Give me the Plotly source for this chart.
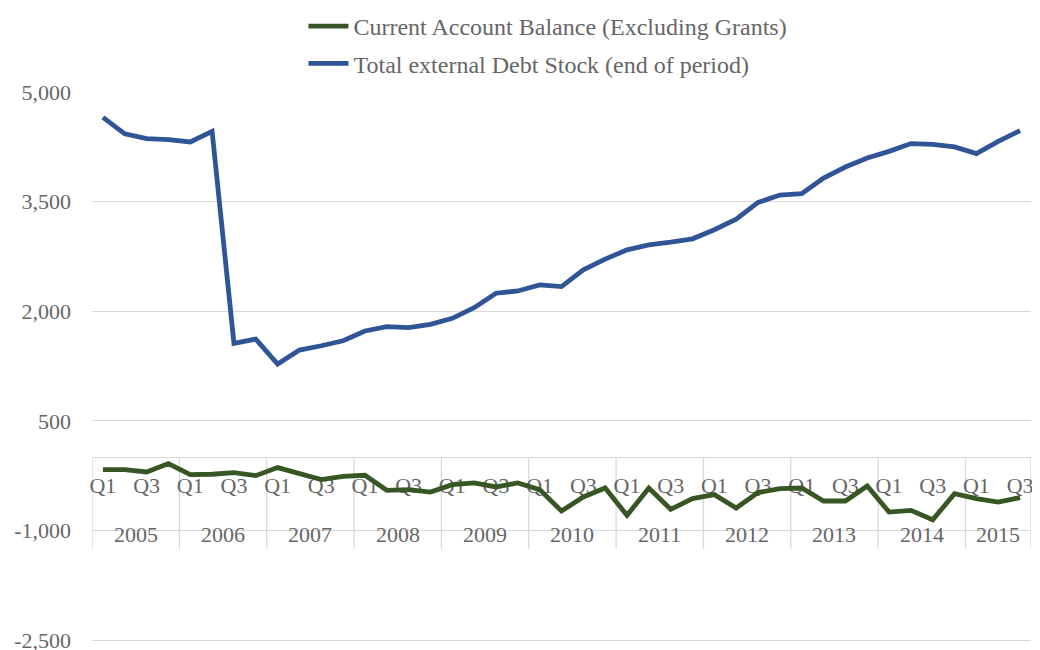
import plotly.graph_objects as go

years = ["2005", "2006", "2007", "2008", "2009", "2010", "2011", "2012", "2013", "2014", "2015"]
quarters_per_year = [4, 4, 4, 4, 4, 4, 4, 4, 4, 4, 3]
quarter_names = ["Q1", "Q2", "Q3", "Q4"]

current_account = [
    -166, -166, -199, -84, -235, -230, -208, -249, -139, -221, -304, -258,
    -244, -450, -440, -473, -372, -349, -404, -349, -440, -733, -541, -418,
    -792, -418, -710, -564, -509, -692, -481, -427, -418, -596, -596, -391,
    -747, -724, -852, -495, -564, -610, -550,
]
debt_stock = [
    4654, 4427, 4362, 4349, 4317, 4462, 1561, 1620, 1277, 1469, 1528, 1597,
    1730, 1789, 1775, 1822, 1904, 2049, 2247, 2278, 2361, 2337, 2566, 2713,
    2840, 2909, 2946, 2991, 3115, 3261, 3489, 3590, 3608, 3823, 3974, 4098,
    4188, 4294, 4284, 4248, 4157, 4325, 4472,
]
y_ticks = [-2500, -1000, 500, 2000, 3500, 5000]

quarter_labels = []
year_of_point = []
for yr, nq in zip(years, quarters_per_year):
    for q in range(nq):
        quarter_labels.append(quarter_names[q])
        year_of_point.append(yr)
idx = list(range(len(quarter_labels)))

FONT = "Liberation Serif"
TXT = "#666666"
GRID = "#d9d9d9"

Y_MIN, Y_MAX = -2525, 5000
zero_frac = -Y_MIN / (Y_MAX - Y_MIN)

fig = go.Figure()
fig.add_trace(go.Scatter(x=idx, y=current_account, mode="lines",
                         name="Current Account Balance (Excluding Grants)",
                         line=dict(color="#375623", width=4.8), legendgroup="a"))
fig.add_trace(go.Scatter(x=idx, y=debt_stock, mode="lines",
                         name="Total external Debt Stock (end of period)",
                         line=dict(color="#2f5597", width=4.8), legendgroup="b"))

tickvals = [i for i in idx if quarter_labels[i] in ("Q1", "Q3")]
ticktext = [quarter_labels[i] for i in tickvals]

# year group dividers and labels
shapes = []
annotations = []
start = 0
bounds = [-0.5]
for yr, nq in zip(years, quarters_per_year):
    center = start + (nq - 1) / 2
    annotations.append(dict(x=center, y=-1050, xref="x", yref="y", text=yr,
                            showarrow=False, yanchor="middle",
                            font=dict(family=FONT, size=22, color=TXT)))
    start += nq
    bounds.append(start - 0.5)
for b in bounds:
    shapes.append(dict(type="line", xref="x", yref="y", x0=b, x1=b,
                       y0=0, y1=-1250, line=dict(color=GRID, width=1.3), layer="below"))

fig.update_layout(
    width=1032, height=642,
    margin=dict(l=84, r=9, t=84, b=8, autoexpand=False),
    paper_bgcolor="white", plot_bgcolor="white",
    font=dict(family=FONT, color=TXT, size=22),
    showlegend=True,
    legend=dict(orientation="v", x=0.4856, xanchor="center", y=1.16, yanchor="top",
                font=dict(family=FONT, size=24, color=TXT), tracegroupgap=3,
                bgcolor="rgba(0,0,0,0)", itemwidth=40),
    xaxis=dict(range=[-0.5, len(idx) - 0.5], showgrid=False, zeroline=False,
               showline=True, linecolor=GRID, linewidth=1.3,
               anchor="free", position=zero_frac, tickvals=tickvals, ticktext=ticktext,
               ticks="", ticklabelstandoff=8, layer="below traces",
               tickfont=dict(family=FONT, size=22, color=TXT)),
    yaxis=dict(range=[Y_MIN, Y_MAX], tickvals=y_ticks,
               ticktext=[f"{v:,}" for v in y_ticks], showgrid=True, gridcolor=GRID,
               gridwidth=1.3, zeroline=False, showline=False, ticks="",
               ticklabeloverflow="allow",
               ticklabelstandoff=20, tickfont=dict(family=FONT, size=22, color=TXT)),
    shapes=shapes, annotations=annotations,
)

fig.write_html("out.html")
